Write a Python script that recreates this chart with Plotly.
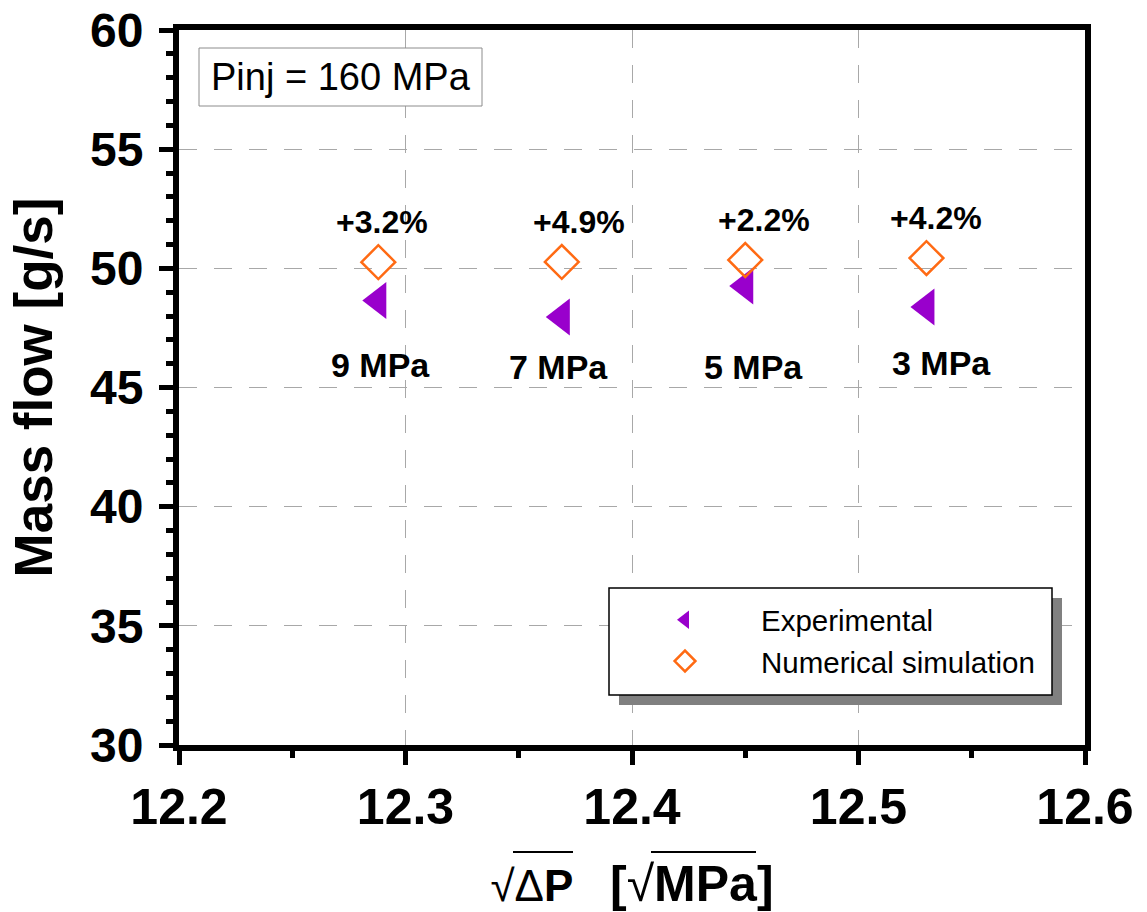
import plotly.graph_objects as go

# ---------------- data ----------------
pressure_labels = ["9 MPa", "7 MPa", "5 MPa", "3 MPa"]
sqrt_dp = [12.288, 12.369, 12.450, 12.530]
exp_flow = [48.65, 47.96, 49.26, 48.38]
sim_flow = [50.26, 50.27, 50.35, 50.43]
diff_labels = ["+3.2%", "+4.9%", "+2.2%", "+4.2%"]

x_ticks = [12.2, 12.3, 12.4, 12.5, 12.6]
y_ticks = [30, 35, 40, 45, 50, 55, 60]

# label offsets (pixels) relative to their points
diff_dx = [4, 17, 19, 10]
diff_dy = [40, 40, 40, 40]
pres_dx = [2, -3, 8, 15]
pres_dy = [-64, -50, -81, -56]

W, H = 1147, 912
L, R, T, B = 179, 62, 30, 167
PW, PH = W - L - R, H - T - B

def px(x):
    return (x - L) / PW

def py(y):
    return (T + PH - y) / PH

FONT = "Liberation Sans, Arial, Helvetica, sans-serif"

fig = go.Figure()

fig.add_trace(go.Scatter(
    x=sqrt_dp, y=exp_flow, mode="markers", name="Experimental",
    marker=dict(symbol="triangle-left", size=32, color="#9900CC",
                line=dict(width=0)),
))
fig.add_trace(go.Scatter(
    x=sqrt_dp, y=sim_flow, mode="markers", name="Numerical simulation",
    marker=dict(symbol="diamond-open", size=26, color="#FF6A13",
                line=dict(width=2.5, color="#FF6A13")),
))

annotations = []
for i in range(len(sqrt_dp)):
    annotations.append(dict(
        x=sqrt_dp[i], y=sim_flow[i], xref="x", yref="y",
        text="<b>%s</b>" % diff_labels[i], showarrow=False,
        xshift=diff_dx[i], yshift=diff_dy[i],
        font=dict(family=FONT, size=32, color="black"),
    ))
    annotations.append(dict(
        x=sqrt_dp[i], y=exp_flow[i], xref="x", yref="y",
        text="<b>%s</b>" % pressure_labels[i], showarrow=False,
        xshift=pres_dx[i], yshift=pres_dy[i],
        font=dict(family=FONT, size=34, color="black"),
    ))

# Pinj box text
annotations.append(dict(
    x=px(340.5), y=py(77), xref="paper", yref="paper",
    text="Pinj = 160 MPa", showarrow=False, xanchor="center", yanchor="middle",
    font=dict(family=FONT, size=38, color="black"),
))

shapes = [
    # Pinj box
    dict(type="rect", xref="paper", yref="paper",
         x0=px(199), x1=px(482), y0=py(106), y1=py(48),
         line=dict(color="#8c8c8c", width=1), fillcolor="white", layer="above"),
    # legend shadow
    dict(type="rect", xref="paper", yref="paper",
         x0=px(619), x1=px(1062), y0=py(705), y1=py(598),
         line=dict(width=0), fillcolor="#808080", layer="above"),
    # legend frame
    dict(type="rect", xref="paper", yref="paper",
         x0=px(609), x1=px(1052), y0=py(695), y1=py(588),
         line=dict(color="black", width=1.5), fillcolor="white", layer="above"),
    # overlines for the radicals in the x title
    dict(type="line", xref="paper", yref="paper",
         x0=px(513), x1=px(573), y0=py(852), y1=py(852),
         line=dict(color="black", width=2)),
    dict(type="line", xref="paper", yref="paper",
         x0=px(651), x1=px(756), y0=py(852), y1=py(852),
         line=dict(color="black", width=2)),
]

fig.update_layout(
    width=W, height=H,
    margin=dict(l=L, r=R, t=T, b=B, autoexpand=False),
    paper_bgcolor="white", plot_bgcolor="white",
    font=dict(family=FONT, color="black"),
    showlegend=True,
    legend=dict(
        x=px(609), y=py(594), xanchor="left", yanchor="top",
        bgcolor="rgba(0,0,0,0)", borderwidth=0,
        font=dict(family=FONT, size=29.5, color="black"),
        itemwidth=142, tracegroupgap=0,
    ),
    annotations=annotations,
    shapes=shapes,
)

fig.update_xaxes(
    range=[12.2, 12.6], tickvals=x_ticks, ticktext=["%.1f" % v for v in x_ticks],
    showline=True, linewidth=6, linecolor="black", mirror=True,
    ticks="outside", ticklen=14, tickwidth=5, tickcolor="black",
    minor=dict(dtick=0.05, ticks="outside", ticklen=7, tickwidth=5,
               tickcolor="black", showgrid=False),
    showgrid=True, gridcolor="#a8a8a8", gridwidth=1, griddash="18px,17px",
    zeroline=False,
    tickfont=dict(family=FONT, size=50, color="black", weight="bold"),
    ticklabelstandoff=-1,
    title=dict(
        text="\u221a\u0394<b>P</b>\u00a0\u00a0\u00a0<span style=\"font-size:50px\"><b>[</b>\u221a<b>MPa]</b></span>",
        font=dict(family=FONT, size=44, color="black"),
        standoff=40,
    ),
)
fig.update_yaxes(
    range=[30, 60], tickvals=y_ticks,
    showline=True, linewidth=6, linecolor="black", mirror=True,
    ticks="outside", ticklen=14, tickwidth=5, tickcolor="black",
    minor=dict(dtick=1, ticks="outside", ticklen=7, tickwidth=5,
               tickcolor="black", showgrid=False),
    showgrid=True, gridcolor="#a8a8a8", gridwidth=1, griddash="18px,17px",
    zeroline=False,
    tickfont=dict(family=FONT, size=48, color="black", weight="bold"),
    ticklabelstandoff=6,
    title=dict(
        text="<b>Mass flow [g/s]</b>",
        font=dict(family=FONT, size=53, color="black"),
        standoff=22,
    ),
)

fig.write_html("out.html")
